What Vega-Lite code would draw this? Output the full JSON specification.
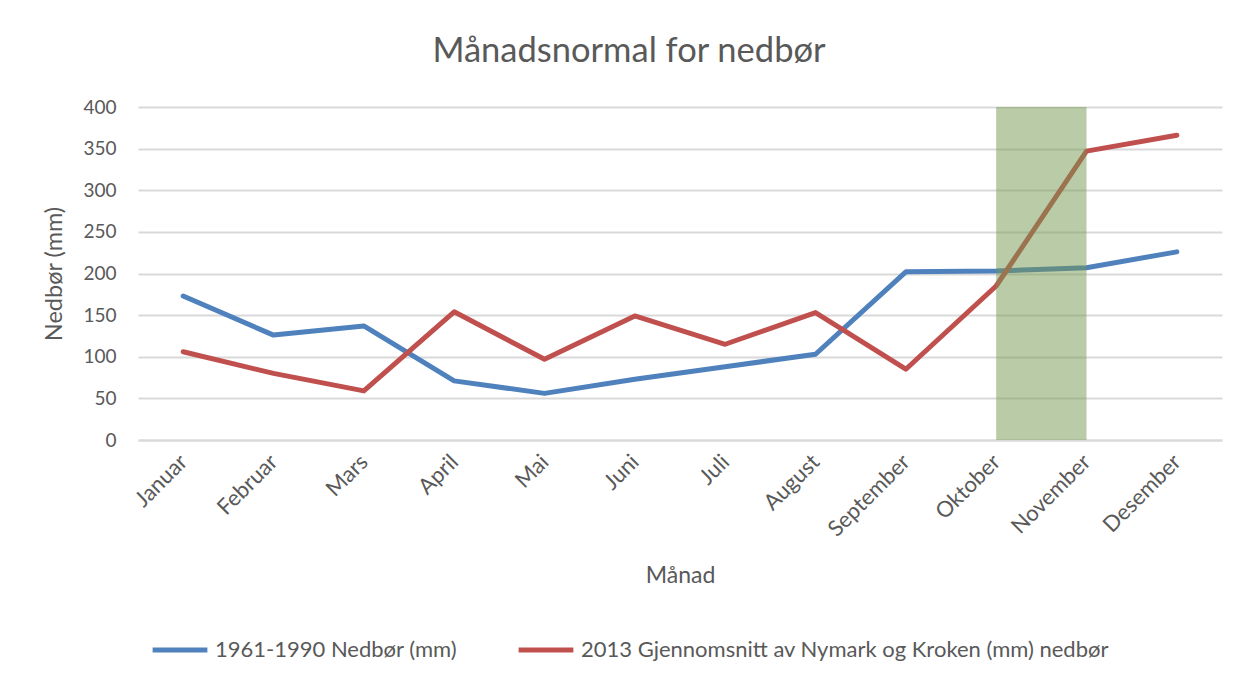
{
  "$schema": "https://vega.github.io/schema/vega-lite/v6.json",
  "width": 1084,
  "height": 333,
  "autosize": {"type": "none"},
  "padding": {"left": 138, "top": 107, "right": 24, "bottom": 242},
  "background": "white",
  "config": {
    "font": "Lato",
    "view": {"stroke": null},
    "axis": {"labelFont": "Lato", "titleFont": "Lato", "labelColor": "#595959", "titleColor": "#595959", "titleFontWeight": "normal"}
  },
  "title": {"text": "Månadsnormal for nedbør", "fontSize": 34.5, "fontWeight": "normal", "color": "#595959", "font": "Lato", "anchor": "middle", "dx": -51, "offset": 29},
  "datasets": {
    "series": [
      {"maaned": "Januar", "serie": "1961-1990 Nedbør (mm)", "verdi": 173},
      {"maaned": "Februar", "serie": "1961-1990 Nedbør (mm)", "verdi": 126},
      {"maaned": "Mars", "serie": "1961-1990 Nedbør (mm)", "verdi": 137},
      {"maaned": "April", "serie": "1961-1990 Nedbør (mm)", "verdi": 71},
      {"maaned": "Mai", "serie": "1961-1990 Nedbør (mm)", "verdi": 56},
      {"maaned": "Juni", "serie": "1961-1990 Nedbør (mm)", "verdi": 73},
      {"maaned": "Juli", "serie": "1961-1990 Nedbør (mm)", "verdi": 88},
      {"maaned": "August", "serie": "1961-1990 Nedbør (mm)", "verdi": 103},
      {"maaned": "September", "serie": "1961-1990 Nedbør (mm)", "verdi": 202},
      {"maaned": "Oktober", "serie": "1961-1990 Nedbør (mm)", "verdi": 203},
      {"maaned": "November", "serie": "1961-1990 Nedbør (mm)", "verdi": 207},
      {"maaned": "Desember", "serie": "1961-1990 Nedbør (mm)", "verdi": 226},
      {"maaned": "Januar", "serie": "2013 Gjennomsnitt av Nymark og Kroken (mm) nedbør", "verdi": 106},
      {"maaned": "Februar", "serie": "2013 Gjennomsnitt av Nymark og Kroken (mm) nedbør", "verdi": 80},
      {"maaned": "Mars", "serie": "2013 Gjennomsnitt av Nymark og Kroken (mm) nedbør", "verdi": 59},
      {"maaned": "April", "serie": "2013 Gjennomsnitt av Nymark og Kroken (mm) nedbør", "verdi": 154},
      {"maaned": "Mai", "serie": "2013 Gjennomsnitt av Nymark og Kroken (mm) nedbør", "verdi": 97},
      {"maaned": "Juni", "serie": "2013 Gjennomsnitt av Nymark og Kroken (mm) nedbør", "verdi": 149},
      {"maaned": "Juli", "serie": "2013 Gjennomsnitt av Nymark og Kroken (mm) nedbør", "verdi": 115},
      {"maaned": "August", "serie": "2013 Gjennomsnitt av Nymark og Kroken (mm) nedbør", "verdi": 153},
      {"maaned": "September", "serie": "2013 Gjennomsnitt av Nymark og Kroken (mm) nedbør", "verdi": 85},
      {"maaned": "Oktober", "serie": "2013 Gjennomsnitt av Nymark og Kroken (mm) nedbør", "verdi": 185},
      {"maaned": "November", "serie": "2013 Gjennomsnitt av Nymark og Kroken (mm) nedbør", "verdi": 347},
      {"maaned": "Desember", "serie": "2013 Gjennomsnitt av Nymark og Kroken (mm) nedbør", "verdi": 366}
    ],
    "band": [
      {"fra": "Oktober", "til": "November", "lav": 0, "hoy": 400}
    ]
  },
  "layer": [
    {
      "data": {"name": "series"},
      "mark": {"type": "line", "strokeWidth": 5, "strokeCap": "round", "strokeJoin": "round"},
      "encoding": {
        "x": {
          "field": "maaned", "type": "ordinal", "sort": null,
          "scale": {"type": "point", "padding": 0.5, "domain": ["Januar","Februar","Mars","April","Mai","Juni","Juli","August","September","Oktober","November","Desember"]},
          "axis": {"title": "Månad", "titleFontSize": 23, "titlePadding": 24, "labelFontSize": 22, "labelAngle": -45, "labelAlign": "right", "labelBaseline": "middle", "labelPadding": 18, "ticks": false, "domain": true, "domainColor": "#d9d9d9", "domainWidth": 2, "grid": false}
        },
        "y": {
          "field": "verdi", "type": "quantitative",
          "scale": {"domain": [0, 400], "nice": false},
          "axis": {"title": "Nedbør (mm)", "titleFontSize": 23.5, "titlePadding": 16, "labelFontSize": 19, "labelPadding": 22, "values": [0,50,100,150,200,250,300,350,400], "ticks": false, "domain": false, "grid": true, "gridColor": "#d9d9d9", "gridWidth": 2}
        },
        "color": {
          "field": "serie", "type": "nominal",
          "scale": {"domain": ["1961-1990 Nedbør (mm)", "2013 Gjennomsnitt av Nymark og Kroken (mm) nedbør"], "range": ["#4f81bd", "#c0504d"]},
          "legend": {"title": null, "orient": "none", "legendX": 12, "legendY": 513, "direction": "horizontal", "symbolType": "stroke", "symbolSize": 3000, "symbolStrokeWidth": 5, "labelFontSize": 22, "labelColor": "#595959", "labelFont": "Lato", "labelLimit": 700, "columnPadding": 50, "labelOffset": 5}
        }
      }
    },
    {
      "data": {"name": "band"},
      "mark": {"type": "rect", "color": "#769752", "opacity": 0.5},
      "encoding": {
        "x": {"field": "fra", "type": "ordinal"},
        "x2": {"field": "til"},
        "y": {"field": "lav", "type": "quantitative"},
        "y2": {"field": "hoy"}
      }
    }
  ]
}
